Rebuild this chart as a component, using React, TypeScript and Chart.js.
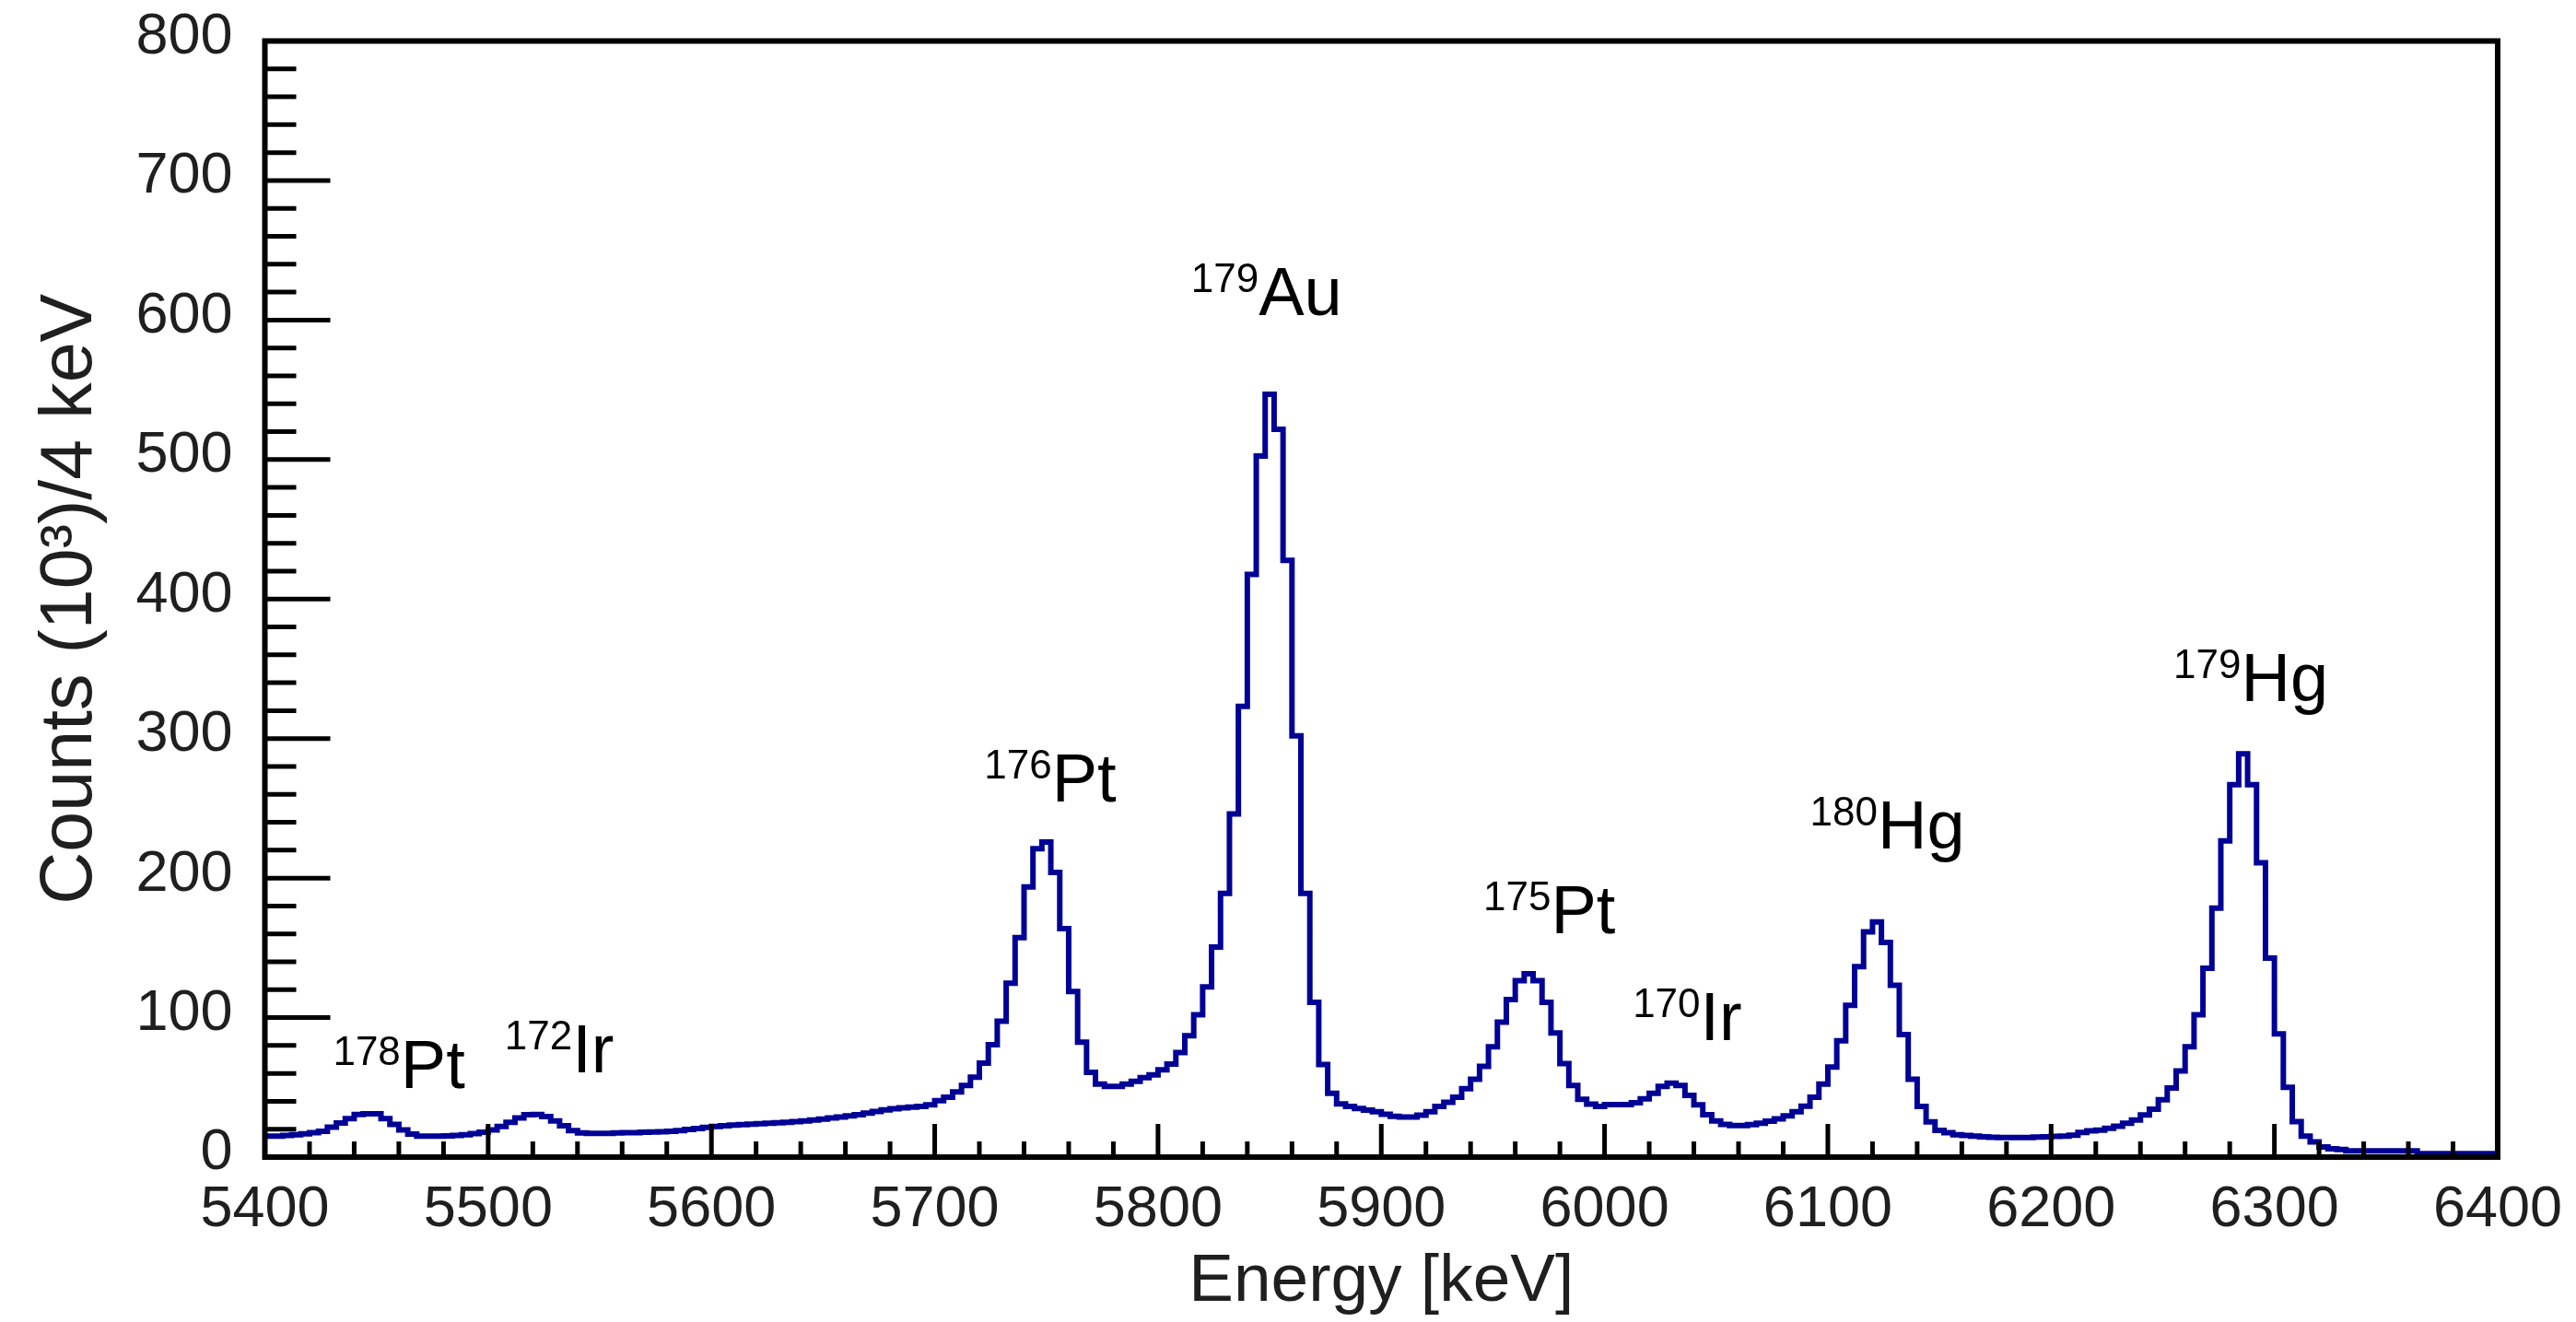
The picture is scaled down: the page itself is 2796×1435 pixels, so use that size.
import React, { useEffect, useRef } from 'react';
import { Chart, registerables } from 'chart.js';

Chart.register(...registerables);

// ---- histogram definition (4 keV bins starting at 5400 keV) ----
const BIN_START = 5400;
const BIN_WIDTH = 4;

// counts (10^3) per 4 keV bin
const counts5400 = [
  15, 15, 15.5, 16, 16.7, 17.5, 18.5, 21.5, 24.5, 27.5,
  30.5, 31, 31, 27.5, 23.5, 19.5, 16.5, 15, 15, 15,
  15.2, 15.5, 16, 16.8, 17.8, 19.5, 22, 25, 28, 30.3,
  30.5, 29, 26, 22.5, 19, 17.3, 17, 17, 17, 17.3,
  17.5, 17.5, 17.8, 18, 18.2, 18.5, 19, 19.8, 20.5, 21.3,
];
const counts5600 = [
  22, 22.5, 23, 23.3, 23.6, 24, 24.3, 24.6, 25, 25.4,
  26, 26.6, 27.3, 28, 28.8, 29.5, 30.3, 31.5, 32.7, 33.8,
  34.7, 35.3, 35.8, 36.4, 37.5, 40.4, 43, 46.8, 51.3, 57.3,
  67.4, 80.5, 97.4, 124.7, 157.3, 193.6, 221, 225.8, 204, 163.7,
  118.7, 82.4, 60.7, 52.4, 50.6, 50.6, 52.4, 54.3, 57, 59,
];
const counts5800 = [
  62.5, 66.7, 75, 87, 102, 122, 150.6, 189, 246, 323,
  417.6, 502.6, 546.8, 521.7, 427.7, 302, 189, 111, 66.3, 45.7,
  38.2, 36.3, 34.8, 33.7, 32.6, 30.7, 29.2, 28.8, 28.8, 30,
  32.6, 36.3, 39.3, 43, 49, 55.8, 65, 79, 96.7, 113,
  126.5, 131.4, 126.5, 111, 89, 67, 51.3, 41.4, 38, 36.3,
];
const counts6000 = [
  37.6, 37.6, 37.6, 39, 41.8, 45.8, 50.7, 53, 51.3, 44.2,
  37.4, 30.3, 25.9, 23.5, 22.6, 22.6, 23.2, 24.3, 25.7, 27.4,
  29.6, 32.5, 36.5, 43, 52.4, 64.6, 83.4, 108.8, 136.5, 161.5,
  168.6, 153.8, 123.2, 87.8, 55.8, 36.3, 25.2, 19.2, 17.5, 16,
  15.5, 15, 14.5, 14.2, 14, 14, 14, 14, 14.3, 14.5,
];
const counts6200 = [
  14.8, 15, 15.7, 17.7, 18.9, 19.3, 20.6, 22.2, 24.2, 26.6,
  30.2, 34.3, 41.1, 49.6, 61.7, 79, 102, 135.4, 178.5, 226.6,
  267, 289, 267, 211, 142.7, 88.3, 50, 25.4, 15, 10.9,
  7.3, 6, 5.5, 4.5, 4.5, 4.5, 4.5, 4.5, 4.5, 4.5,
  4.5, 2.5, 2.5, 2.5, 2.5, 2.5, 2.5, 2.5, 2.5, 2.5,
];
const COUNTS = [...counts5400, ...counts5600, ...counts5800, ...counts6000, ...counts6200];

// ---- axes ----
const X_MIN = 5400;
const X_MAX = 6400;
const X_MAJOR = 100;
const X_MINOR = 20;
const Y_MIN = 0;
const Y_MAX = 800;
const Y_MAJOR = 100;
const Y_MINOR = 20;
const X_TITLE = 'Energy [keV]';
const Y_TITLE = 'Counts (10\u00B3)/4 keV';

// ---- peak labels ----
const labelMass = ['178', '172', '176', '179', '175', '170', '180', '179'];
const labelElement = ['Pt', 'Ir', 'Pt', 'Au', 'Pt', 'Ir', 'Hg', 'Hg'];
const labelEnergy = [5430.5, 5507.4, 5722.2, 5814.8, 5945.7, 6012.6, 6092, 6254.8];
const labelCounts = [49.5, 61, 255, 603.5, 160.5, 84, 221, 327];

const FONT = '"Liberation Sans", Arial, Helvetica, sans-serif';
const TEXT_COLOR = '#1f1f1f';
const LINE_COLOR = '#000096';

export default function App() {
  const ref = useRef<HTMLCanvasElement>(null);

  useEffect(() => {
    const canvas = ref.current;
    if (!canvas) return;

    const points = COUNTS.map((c, i) => ({ x: BIN_START + i * BIN_WIDTH, y: c }));
    points.push({ x: BIN_START + COUNTS.length * BIN_WIDTH, y: COUNTS[COUNTS.length - 1] });

    const rootFrame = {
      id: 'rootFrame',
      afterDatasetsDraw(chart: any) {
        const { ctx, chartArea: a, scales } = chart;
        const xs = scales.x;
        const ys = scales.y;
        ctx.save();

        // peak labels
        ctx.fillStyle = '#000';
        ctx.textAlign = 'left';
        ctx.textBaseline = 'alphabetic';
        for (let i = 0; i < labelMass.length; i++) {
          const px = xs.getPixelForValue(labelEnergy[i]);
          const py = ys.getPixelForValue(labelCounts[i]);
          ctx.font = `44px ${FONT}`;
          ctx.fillText(labelMass[i], px, py - 25);
          const w = ctx.measureText(labelMass[i]).width;
          ctx.font = `74px ${FONT}`;
          ctx.fillText(labelElement[i], px + w, py);
        }

        // inward ticks
        ctx.strokeStyle = '#000';
        ctx.lineCap = 'butt';
        ctx.lineWidth = 5;
        ctx.beginPath();
        for (let v = X_MIN; v <= X_MAX; v += X_MINOR) {
          const px = xs.getPixelForValue(v);
          const len = (v - X_MIN) % X_MAJOR === 0 ? 36 : 17;
          ctx.moveTo(px, a.bottom);
          ctx.lineTo(px, a.bottom - len);
        }
        for (let v = Y_MIN; v <= Y_MAX; v += Y_MINOR) {
          const py = ys.getPixelForValue(v);
          const len = (v - Y_MIN) % Y_MAJOR === 0 ? 71 : 34;
          ctx.moveTo(a.left, py);
          ctx.lineTo(a.left + len, py);
        }
        ctx.stroke();

        // frame
        ctx.lineWidth = 6;
        ctx.lineJoin = 'miter';
        ctx.strokeRect(a.left, a.top, a.right - a.left, a.bottom - a.top);
        ctx.restore();
      },
    };

    const chart = new Chart(canvas, {
      type: 'line',
      data: {
        datasets: [
          {
            data: points,
            borderColor: LINE_COLOR,
            borderWidth: 6,
            pointRadius: 0,
            stepped: 'before',
            fill: false,
            tension: 0,
            borderJoinStyle: 'miter',
          },
        ],
      },
      options: {
        responsive: false,
        maintainAspectRatio: false,
        animation: false,
        devicePixelRatio: 1,
        events: [],
        layout: { autoPadding: false, padding: { top: 44.5, right: 85, bottom: 0, left: 0 } },
        plugins: {
          legend: { display: false },
          tooltip: { enabled: false },
        },
        scales: {
          x: {
            type: 'linear',
            min: X_MIN,
            max: X_MAX,
            grid: { display: false, drawTicks: true, tickLength: 20 },
            border: { display: false },
            ticks: {
              stepSize: X_MAJOR,
              autoSkip: false,
              maxRotation: 0,
              minRotation: 0,
              padding: 0,
              color: TEXT_COLOR,
              font: { family: FONT, size: 63 },
              callback: (v: any) => String(v),
            },
            title: {
              display: true,
              text: X_TITLE,
              color: TEXT_COLOR,
              font: { family: FONT, size: 73 },
              padding: { top: 0, bottom: -1 },
            },
            afterFit: (s: any) => {
              s.height = 179;
            },
          },
          y: {
            type: 'linear',
            min: Y_MIN,
            max: Y_MAX,
            grid: { display: false, drawTicks: true, tickLength: 35 },
            border: { display: false },
            ticks: {
              stepSize: Y_MAJOR,
              autoSkip: false,
              padding: 0,
              labelOffset: -4,
              color: TEXT_COLOR,
              font: { family: FONT, size: 63 },
              callback: (v: any) => String(v),
            },
            title: {
              display: true,
              text: Y_TITLE,
              color: TEXT_COLOR,
              font: { family: FONT, size: 79 },
              padding: { top: 30, bottom: 0 },
            },
            afterFit: (s: any) => {
              s.width = 287.5;
            },
          },
        },
      },
      plugins: [rootFrame],
    } as any);

    return () => chart.destroy();
  }, []);

  return (
    <div style={{ position: 'fixed', left: 0, top: 0, width: 2796, height: 1435, background: '#fff' }}>
      <canvas ref={ref} width={2796} height={1435} style={{ display: 'block', width: 2796, height: 1435 }} />
    </div>
  );
}
